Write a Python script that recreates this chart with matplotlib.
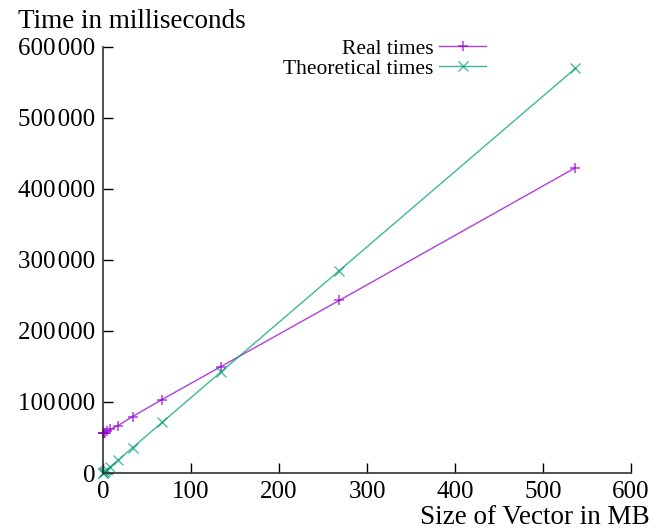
import matplotlib
matplotlib.use("Agg")
import matplotlib.pyplot as plt

sizes_mb = [536.9, 268.4, 134.2, 67.1, 33.55, 16.78, 8.39, 4.19, 2.10, 1.05, 0.52, 0.26]
real_times = [430000, 243000, 150000, 103500, 79500, 66500, 61500, 58500, 57000, 56500, 56000, 55800]
theoretical_times = [570000, 285000, 142500, 71250, 35600, 17800, 8900, 4450, 2230, 1110, 560, 280]
x_ticks = [0, 100, 200, 300, 400, 500, 600]
y_ticks = [0, 100000, 200000, 300000, 400000, 500000, 600000]

plt.rcParams['font.family'] = ['Liberation Serif', 'DejaVu Serif']
fig = plt.figure(figsize=(6.61, 5.31), dpi=100)
ax = fig.add_axes([103/661, 1-473/531, (631-103)/661, (473-47)/531])

ax.plot(sizes_mb, real_times, color='#9400d3', lw=1.0, marker='+', ms=7.5, mew=1.1,
        label='Real times', alpha=0.75, clip_on=False)
ax.plot(sizes_mb, theoretical_times, color='#009e73', lw=1.0, marker='x', ms=6.5, mew=0.9,
        label='Theoretical times', alpha=0.75, clip_on=False)

ax.set_xlim(0, 600)
ax.set_ylim(0, 600000)
ax.set_xticks(x_ticks)
ax.set_yticks(y_ticks)
ax.set_xticklabels([str(v) for v in x_ticks])
ax.set_yticklabels([f"{v:,}".replace(',', '\u200a') for v in y_ticks])
ax.tick_params(direction='in', length=7, width=1, labelsize=18, colors='black', pad=5.5)
for s in ['top', 'right']:
    ax.spines[s].set_visible(False)
for s in ['left', 'bottom']:
    ax.spines[s].set_color('#333333')
    ax.spines[s].set_linewidth(1.2)

fig.text(18/661, 1-21/531, 'Time in milliseconds', fontsize=19.5, ha='left', va='center')
fig.text(650/661, 1-517/531, 'Size of Vector in MB', fontsize=19.5, ha='right', va='center')

leg = ax.legend(loc='upper right', bbox_to_anchor=(497/661, 1-28/531), bbox_transform=fig.transFigure,
                frameon=False, markerfirst=False, fontsize=15.5, handlelength=2.2,
                handletextpad=0.25, labelspacing=0.0, borderpad=0)

fig.savefig('out.png', dpi=100)
